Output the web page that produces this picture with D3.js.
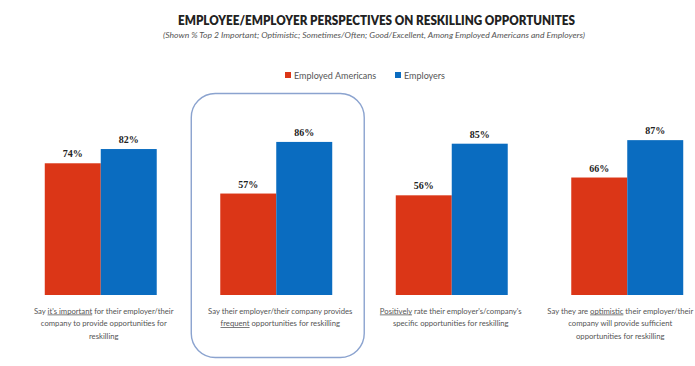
<!DOCTYPE html>
<html>
<head>
<meta charset="utf-8">
<script src="https://cdn.jsdelivr.net/npm/d3@7/dist/d3.min.js"></script>
<style>
  html, body { margin: 0; padding: 0; background: #fff; }
  svg { display: block; }
</style>
</head>
<body>
<svg id="chart" width="695" height="366"></svg>
<script>
// Survey results: share of employed Americans vs. employers
const categories = ["important", "frequent", "positively", "optimistic"];
const seriesNames = ["Employed Americans", "Employers"];
const employedAmericans = [74, 57, 56, 66];
const employers = [82, 86, 85, 87];
const seriesColors = ["#db3617", "#0a6cc0"];

// Caption lines under each group; segments flagged u:true are underlined
const captions = [
  [[{t: "Say "}, {t: "it's important", u: true}, {t: " for their employer/their"}],
   [{t: "company to provide opportunities for"}],
   [{t: "reskilling"}]],
  [[{t: "Say their employer/their company provides"}],
   [{t: "frequent", u: true}, {t: " opportunities for reskilling"}]],
  [[{t: "Positively", u: true}, {t: " rate their employer's/company's"}],
   [{t: "specific opportunities for reskilling"}]],
  [[{t: "Say they are "}, {t: "optimistic", u: true}, {t: " their employer/their"}],
   [{t: "company will provide sufficient"}],
   [{t: "opportunities for reskilling"}]]
];
// horizontal nudge of each caption block relative to its group centre
const captionShift = [3, 4, -1, -7];

const titleText = "EMPLOYEE/EMPLOYER PERSPECTIVES ON RESKILLING OPPORTUNITES";
const subtitleText = "(Shown % Top 2 Important; Optimistic; Sometimes/Often; Good/Excellent, Among Employed Americans and Employers)";

const svg = d3.select("#chart");

const rows = categories.map((c, i) => ({
  cat: c,
  values: [employedAmericans[i], employers[i]]
}));

const x0 = d3.scaleBand().domain(categories).range([13, 715])
  .paddingInner(0.362).paddingOuter(0.181);
const x1 = d3.scaleBand().domain(seriesNames).range([0, x0.bandwidth()]);
const y = d3.scaleLinear().domain([0, 100]).range([295, 117]);

// Highlight frame around the second group
const hl = x0("frequent");
svg.append("rect")
  .attr("x", hl - 29).attr("y", 93.5)
  .attr("width", x0.bandwidth() + 61).attr("height", 264)
  .attr("rx", 24).attr("ry", 24)
  .attr("fill", "none").attr("stroke", "#8ba3cf").attr("stroke-width", 1.4);

// Title
svg.append("text")
  .attr("x", 376.5).attr("y", 24.7)
  .attr("text-anchor", "middle")
  .attr("font-family", "Lato, sans-serif").attr("font-weight", 800)
  .attr("font-size", 13).attr("fill", "#222")
  .attr("textLength", 397).attr("lengthAdjust", "spacingAndGlyphs")
  .text(titleText);
svg.append("text")
  .attr("x", 374).attr("y", 38)
  .attr("text-anchor", "middle")
  .attr("font-family", "Lato, sans-serif").attr("font-style", "italic")
  .attr("font-size", 8.4).attr("fill", "#555")
  .attr("textLength", 422).attr("lengthAdjust", "spacingAndGlyphs")
  .text(subtitleText);

// Legend
const legend = svg.append("g").attr("font-family", "Lato, sans-serif")
  .attr("font-size", 9).attr("fill", "#555");
const legendX = [285, 395];
seriesNames.forEach((s, i) => {
  legend.append("rect").attr("x", legendX[i]).attr("y", 72)
    .attr("width", 6).attr("height", 6).attr("fill", seriesColors[i]);
  legend.append("text").attr("x", legendX[i] + 9).attr("y", 78.5).text(s);
});

// Bars
const groups = svg.selectAll("g.group").data(rows).join("g")
  .attr("class", "group")
  .attr("transform", d => `translate(${x0(d.cat)},0)`);

groups.selectAll("rect").data(d => d.values.map((v, j) => ({v, s: seriesNames[j], j})))
  .join("rect")
  .attr("x", d => x1(d.s))
  .attr("y", d => y(d.v))
  .attr("width", x1.bandwidth())
  .attr("height", d => y(0) - y(d.v))
  .attr("fill", d => seriesColors[d.j]);

groups.selectAll("text.val").data(d => d.values.map((v, j) => ({v, s: seriesNames[j]})))
  .join("text")
  .attr("class", "val")
  .attr("x", d => x1(d.s) + x1.bandwidth() / 2)
  .attr("y", d => y(d.v) - 6)
  .attr("text-anchor", "middle")
  .attr("font-family", "Liberation Serif, serif").attr("font-weight", "bold")
  .attr("font-size", 10).attr("fill", "#222")
  .text(d => d.v + "%");

// Captions
groups.each(function(d, i) {
  const g = d3.select(this);
  const cx = x0.bandwidth() / 2 + captionShift[i];
  captions[i].forEach((line, li) => {
    const t = g.append("text")
      .attr("x", cx).attr("y", 313.5 + li * 12.5)
      .attr("text-anchor", "middle")
      .attr("font-family", "Lato, sans-serif")
      .attr("font-size", 7.7).attr("fill", "#555");
    line.forEach(seg => {
      t.append("tspan").attr("text-decoration", seg.u ? "underline" : null).text(seg.t);
    });
  });
});
</script>
</body>
</html>
